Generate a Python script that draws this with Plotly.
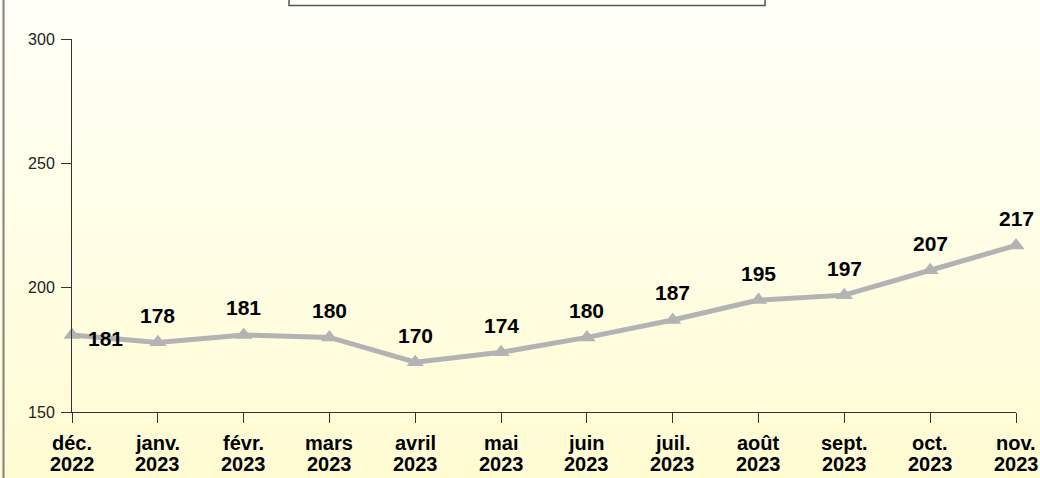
import plotly.graph_objects as go

months = ["déc.", "janv.", "févr.", "mars", "avril", "mai", "juin", "juil.", "août", "sept.", "oct.", "nov."]
years = ["2022", "2023", "2023", "2023", "2023", "2023", "2023", "2023", "2023", "2023", "2023", "2023"]
values = [181, 178, 181, 180, 170, 174, 180, 187, 195, 197, 207, 217]
y_ticks = [150, 200, 250, 300]

W, H = 1040, 478
L, R, T, B = 72, 24, 39, 66
pw, ph = W - L - R, H - T - B
FONT = "Liberation Sans, Arial, sans-serif"

def px_to_paper_x(px):
    return (px - L) / pw

def py_to_paper_y(py):
    return (H - B - py) / ph

x = list(range(len(months)))

fig = go.Figure()
fig.add_trace(go.Scatter(
    x=x, y=values, mode="lines+markers",
    line=dict(color="#B3B3B3", width=5),
    marker=dict(symbol="triangle-up", size=15, color="#B3B3B3"),
    cliponaxis=False, showlegend=False, hoverinfo="skip",
))

# data labels
for i, v in enumerate(values):
    if i == 0:
        xs, ys = 33, -4
    else:
        xs, ys = 0, 27
    fig.add_annotation(x=i, y=v, text=f"<b>{v}</b>", showarrow=False,
                       xshift=xs, yshift=ys, yanchor="middle", xanchor="center",
                       font=dict(family=FONT, size=21, color="#000000"))

# category labels (two lines, tight spacing)
for i, (m, yr) in enumerate(zip(months, years)):
    fig.add_annotation(x=i, xref="x", yref="paper", y=py_to_paper_y(443),
                       text=f"<b>{m}</b>", showarrow=False, yanchor="middle",
                       xanchor="center", font=dict(family=FONT, size=20, color="#000000"))
    fig.add_annotation(x=i, xref="x", yref="paper", y=py_to_paper_y(464),
                       text=f"<b>{yr}</b>", showarrow=False, yanchor="middle",
                       xanchor="center", font=dict(family=FONT, size=20, color="#000000"))

# background gradient bands
top = (255, 255, 248)
bot = (255, 252, 210)
n = 60
shapes = []
for k in range(n):
    t = (k + 0.5) / n
    c = tuple(round(top[j] + (bot[j] - top[j]) * t) for j in range(3))
    y0 = H * k / n
    y1 = H * (k + 1) / n + 1
    shapes.append(dict(type="rect", xref="paper", yref="paper",
                       x0=px_to_paper_x(0), x1=px_to_paper_x(W),
                       y0=py_to_paper_y(y1), y1=py_to_paper_y(y0),
                       fillcolor=f"rgb{c}", line=dict(width=0), layer="below"))
# left frame line
shapes.append(dict(type="line", xref="paper", yref="paper",
                   x0=px_to_paper_x(3.5), x1=px_to_paper_x(3.5),
                   y0=py_to_paper_y(H), y1=py_to_paper_y(0),
                   line=dict(color="#808080", width=2)))
# top box
shapes.append(dict(type="rect", xref="paper", yref="paper",
                   x0=px_to_paper_x(289), x1=px_to_paper_x(765),
                   y0=py_to_paper_y(5.5), y1=py_to_paper_y(-3),
                   fillcolor="#FFFFFA", line=dict(color="#555555", width=1.5)))

fig.update_layout(
    width=W, height=H, autosize=False,
    margin=dict(l=L, r=R, t=T, b=B, pad=0),
    paper_bgcolor="#FFFEEA", plot_bgcolor="rgba(0,0,0,0)",
    shapes=shapes,
    font=dict(family=FONT, color="#000000"),
    xaxis=dict(range=[0, 11], tickvals=x, showticklabels=False, showgrid=False,
               zeroline=False, showline=True, linecolor="#333333", linewidth=1,
               ticks="outside", ticklen=10, tickcolor="#333333", automargin=False),
    yaxis=dict(range=[150, 300], tickvals=y_ticks, showgrid=False, zeroline=False,
               showline=True, linecolor="#333333", linewidth=1, automargin=False,
               ticks="outside", ticklen=10, tickcolor="#333333", ticklabelstandoff=3,
               tickfont=dict(family=FONT, size=16, color="#222222")),
)

css = ("var s=document.createElement('style');"
       "s.textContent='html,body{margin:0;padding:0;overflow:hidden;width:1040px;height:478px;}';"
       "document.head.appendChild(s);")
fig.write_html("out.html", post_script=css, config={"displayModeBar": False})
